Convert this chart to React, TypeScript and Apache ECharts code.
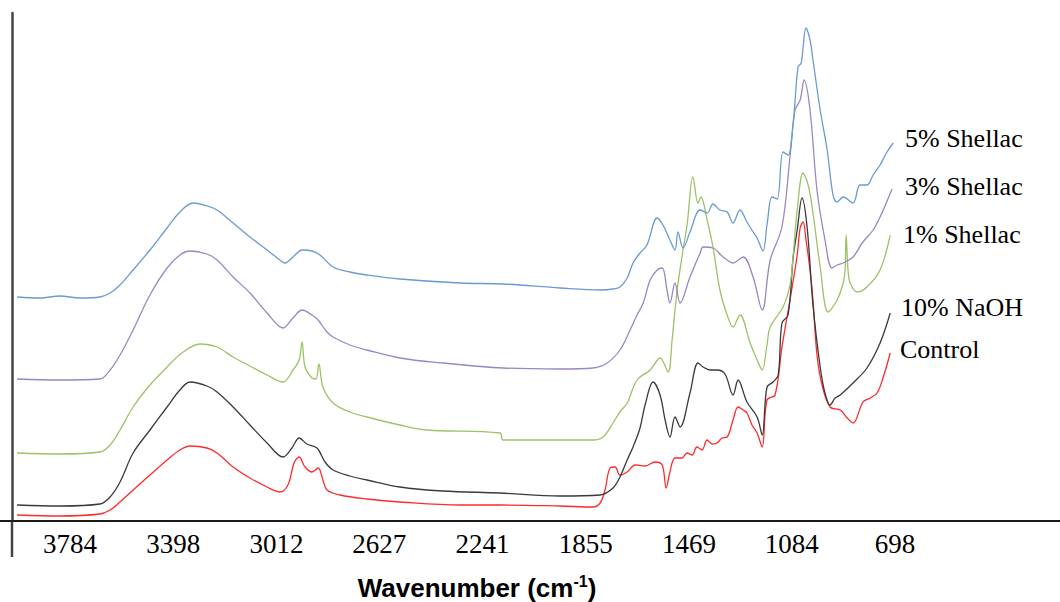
import React, { useEffect, useRef } from "react";
import * as echarts from "echarts";

// Wavenumber tick labels (cm-1)
const tickLabels = [3784, 3398, 3012, 2627, 2241, 1855, 1469, 1084, 698];

const seriesNames = ["5% Shellac", "3% Shellac", "1% Shellac", "10% NaOH", "Control"];
const seriesColors = ["#6a9ad4", "#9a86c2", "#9dc267", "#3a3a3a", "#ff2a2a"];

// [wavenumber, relative absorbance (offset, a.u.)]
const shellac5: number[][] = [
  [3982, 224], [3896, 223], [3822, 225], [3747, 223], [3672, 224], [3634, 228], [3597, 236], [3548, 251],
  [3485, 271], [3421, 293], [3373, 309], [3324, 318], [3272, 315], [3234, 311], [3174, 298], [3111, 284],
  [3047, 271], [2999, 261], [2980, 258], [2950, 264], [2916, 271], [2879, 270], [2849, 266], [2800, 254],
  [2737, 249], [2673, 246], [2550, 242], [2325, 238], [2164, 237], [1951, 233], [1801, 231], [1753, 232],
  [1727, 234], [1700, 243], [1678, 258], [1652, 268], [1626, 276], [1588, 303], [1566, 296], [1540, 281],
  [1521, 271], [1510, 289], [1491, 273], [1465, 289], [1427, 311], [1401, 308], [1379, 317], [1353, 311],
  [1326, 309], [1304, 298], [1278, 311], [1252, 299], [1229, 289], [1214, 283], [1192, 270], [1177, 296],
  [1158, 324], [1139, 322], [1117, 369], [1098, 366], [1079, 398], [1061, 454], [1049, 458], [1031, 493],
  [1016, 481], [1005, 461], [978, 411], [952, 371], [930, 326], [915, 319], [892, 324], [855, 318],
  [829, 336], [803, 336], [780, 346], [754, 356], [728, 369], [705, 378],
];

const shellac3: number[][] = [
  [3982, 142], [3822, 141], [3672, 142], [3634, 151], [3597, 166], [3548, 191], [3485, 226], [3421, 253],
  [3373, 266], [3335, 270], [3272, 267], [3234, 261], [3174, 244], [3111, 228], [3047, 208], [2987, 193],
  [2950, 203], [2916, 211], [2879, 206], [2856, 201], [2823, 189], [2800, 184], [2737, 176], [2673, 171],
  [2550, 163], [2389, 158], [2164, 153], [1951, 152], [1828, 153], [1775, 158], [1727, 171], [1689, 191],
  [1663, 206], [1640, 218], [1614, 241], [1588, 251], [1569, 253], [1551, 231], [1540, 218], [1521, 238],
  [1502, 218], [1465, 244], [1427, 268], [1416, 274], [1379, 273], [1341, 264], [1304, 258], [1266, 264],
  [1229, 244], [1195, 211], [1165, 261], [1121, 294], [1091, 364], [1072, 411], [1053, 421], [1038, 441],
  [1016, 411], [990, 331], [960, 281], [934, 253], [915, 256], [892, 258], [855, 264], [821, 278],
  [780, 291], [754, 304], [709, 332],
];

const shellac1: number[][] = [
  [3982, 68], [3822, 67], [3672, 69], [3634, 76], [3597, 91], [3548, 114], [3485, 136], [3421, 154],
  [3361, 169], [3298, 177], [3234, 174], [3174, 164], [3111, 155], [3047, 146], [2987, 139], [2950, 151],
  [2927, 161], [2916, 179], [2905, 154], [2879, 143], [2864, 142], [2853, 157], [2838, 134], [2800, 118],
  [2737, 109], [2673, 104], [2550, 96], [2449, 91], [2176, 88], [2164, 81], [1951, 81], [1828, 81],
  [1790, 84], [1753, 98], [1727, 109], [1700, 118], [1663, 141], [1614, 151], [1577, 163], [1547, 149],
  [1532, 181], [1513, 231], [1491, 271], [1476, 296], [1454, 344], [1435, 318], [1424, 324], [1401, 301],
  [1379, 274], [1353, 231], [1326, 206], [1304, 194], [1278, 206], [1240, 178], [1214, 161], [1195, 151],
  [1177, 176], [1165, 194], [1117, 214], [1091, 236], [1079, 266], [1064, 311], [1042, 348], [1023, 336],
  [1005, 308], [978, 254], [948, 209], [915, 221], [892, 238], [885, 251], [881, 286], [874, 251],
  [866, 238], [840, 229], [803, 234], [754, 251], [716, 286],
];

const naoh10: number[][] = [
  [3982, 16], [3822, 15], [3672, 17], [3634, 24], [3597, 39], [3548, 68], [3485, 91], [3421, 114],
  [3373, 131], [3335, 139], [3272, 135], [3234, 129], [3174, 114], [3111, 96], [3047, 78], [2987, 64],
  [2954, 73], [2927, 83], [2898, 77], [2860, 73], [2830, 59], [2800, 51], [2737, 45], [2673, 41],
  [2550, 34], [2389, 30], [2176, 28], [1951, 25], [1801, 26], [1753, 33], [1727, 44], [1700, 61],
  [1678, 74], [1652, 93], [1633, 116], [1603, 139], [1577, 126], [1558, 101], [1540, 84], [1521, 104],
  [1502, 94], [1465, 128], [1435, 158], [1416, 154], [1390, 151], [1364, 151], [1334, 147], [1304, 126],
  [1285, 141], [1252, 119], [1214, 104], [1195, 86], [1177, 134], [1154, 139], [1135, 146], [1121, 198],
  [1098, 206], [1079, 264], [1064, 291], [1046, 323], [1027, 294], [1005, 216], [978, 154], [960, 128],
  [941, 116], [922, 123], [903, 126], [855, 138], [803, 153], [754, 178], [716, 208],
];

const control: number[][] = [
  [3982, 6], [3822, 5], [3672, 7], [3634, 11], [3597, 19], [3548, 31], [3485, 46], [3421, 61],
  [3373, 71], [3335, 75], [3272, 73], [3234, 68], [3174, 54], [3111, 43], [3047, 34], [2999, 29],
  [2969, 36], [2946, 58], [2927, 64], [2905, 54], [2879, 49], [2856, 53], [2838, 41], [2823, 31],
  [2774, 26], [2673, 22], [2550, 19], [2325, 16], [2176, 16], [1951, 15], [1828, 14], [1801, 18],
  [1783, 31], [1764, 53], [1745, 54], [1727, 46], [1700, 49], [1670, 56], [1633, 55], [1596, 59],
  [1569, 56], [1554, 33], [1540, 49], [1521, 63], [1495, 63], [1476, 68], [1457, 66], [1439, 74],
  [1420, 71], [1401, 81], [1382, 77], [1364, 78], [1345, 83], [1326, 84], [1304, 101], [1285, 114],
  [1266, 111], [1252, 108], [1233, 96], [1214, 88], [1195, 74], [1177, 121], [1147, 126], [1121, 174],
  [1091, 221], [1064, 266], [1053, 293], [1042, 299], [1031, 281], [1016, 251], [1005, 221], [990, 166],
  [971, 136], [941, 114], [903, 111], [877, 103], [855, 98], [818, 119], [791, 123], [765, 128],
  [743, 143], [716, 168],
];

const seriesData = [shellac5, shellac3, shellac1, naoh10, control];

// label anchor (left edge, vertical centre) for each series name
const labelAnchors = [
  [905, 138], [905, 186], [903, 234], [901, 307], [900, 349],
];

export default function App() {
  const ref = useRef<HTMLDivElement>(null);
  useEffect(() => {
    if (!ref.current) return;
    const chart = echarts.init(ref.current, null, { renderer: "svg" });
    chart.setOption({
      animation: false,
      backgroundColor: "#ffffff",
      grid: { left: 12, right: 0, top: 13, bottom: 81, containLabel: false },
      xAxis: {
        type: "value",
        inverse: true,
        min: 81,
        max: 4001,
        axisLine: { show: true, lineStyle: { color: "#1a1a1a", width: 2 } },
        axisTick: { show: false },
        splitLine: { show: false },
        axisLabel: {
          customValues: tickLabels,
          formatter: (v: number) => String(v),
          fontFamily: "Liberation Serif",
          fontSize: 27,
          color: "#000",
          margin: 9,
        },
      },
      yAxis: {
        type: "value",
        min: 0,
        max: 508,
        axisLine: { show: true, lineStyle: { color: "#444", width: 2.5 } },
        axisTick: { show: false },
        axisLabel: { show: false },
        splitLine: { show: false },
      },
      series: seriesData.map((d, i) => ({
        name: seriesNames[i],
        type: "line",
        data: d,
        showSymbol: false,
        smooth: 0.35,
        lineStyle: { color: seriesColors[i], width: 1.3 },
        z: 10 - i,
      })),
      graphic: [
        {
          type: "line",
          shape: { x1: 0, y1: 521, x2: 12, y2: 521 },
          style: { stroke: "#1a1a1a", lineWidth: 2 },
        },
        {
          type: "line",
          shape: { x1: 12, y1: 521, x2: 12, y2: 557 },
          style: { stroke: "#444", lineWidth: 2.5 },
        },
        ...seriesNames.map((n, i) => ({
          type: "text",
          x: labelAnchors[i][0],
          y: labelAnchors[i][1],
          style: {
            text: n,
            font: '26px "Liberation Serif"',
            fill: "#000",
            align: "left",
            verticalAlign: "middle",
          },
        })),
        {
          type: "text",
          x: 477,
          y: 588,
          style: {
            text: "{a|Wavenumber (cm}{s|-1}{a|)}",
            align: "center",
            verticalAlign: "middle",
            rich: {
              a: { font: 'bold 26px "Liberation Sans"', fill: "#000", lineHeight: 30 },
              s: { font: 'bold 16px "Liberation Sans"', fill: "#000", verticalAlign: "top", lineHeight: 30, padding: [0, 0, 12, 0] },
            },
          },
        },
      ],
    });
    return () => chart.dispose();
  }, []);
  return (
    <div
      ref={ref}
      style={{ position: "fixed", left: 0, top: 0, width: 1060, height: 602 }}
    />
  );
}
